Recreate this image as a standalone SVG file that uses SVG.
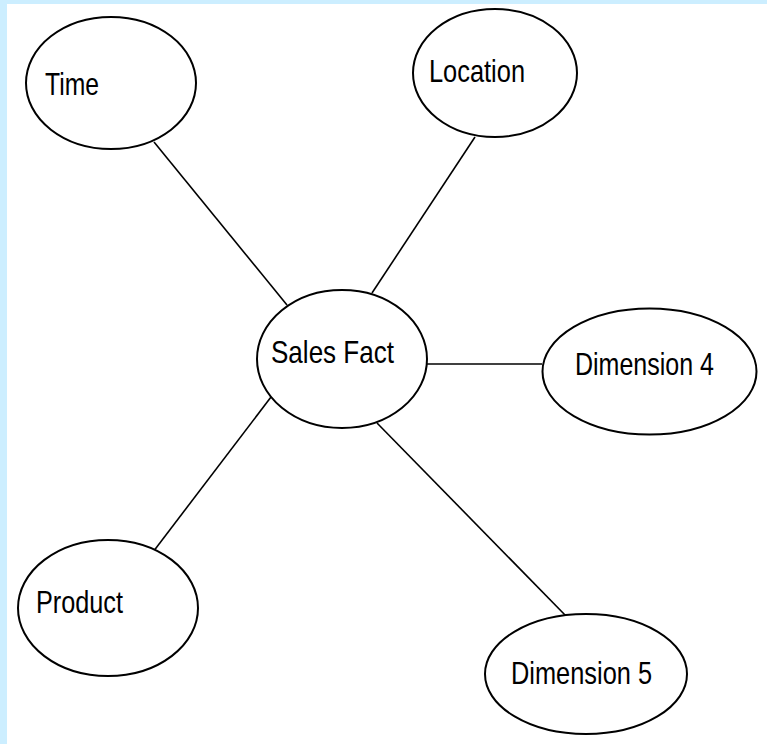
<svg xmlns="http://www.w3.org/2000/svg" width="767" height="744" viewBox="0 0 767 744">
<style>
.n ellipse{fill:#fff;stroke:#000;stroke-width:2}
.n text{font-family:"Liberation Sans",Arial,sans-serif;font-size:32px;fill:#000}
#edges line{stroke:#000;stroke-width:1.6}
</style>
<rect width="767" height="744" fill="#fff"/>
<rect x="0" y="0" width="767" height="4" fill="#cceeff"/>
<rect x="0" y="0" width="7" height="744" fill="#cceeff"/>
<g id="edges">
<line x1="154" y1="142" x2="287" y2="305"/>
<line x1="475" y1="137" x2="372" y2="293"/>
<line x1="153" y1="552" x2="271" y2="397"/>
<line x1="377" y1="423" x2="567" y2="617"/>
<line x1="427" y1="364" x2="542" y2="364"/>
</g>
<g id="time" class="n"><ellipse cx="111" cy="83" rx="85" ry="66"/><text x="45" y="95" textLength="54" lengthAdjust="spacingAndGlyphs">Time</text></g>
<g id="location" class="n"><ellipse cx="495" cy="73" rx="82" ry="64"/><text x="429" y="82" textLength="96" lengthAdjust="spacingAndGlyphs">Location</text></g>
<g id="sales" class="n"><ellipse cx="342" cy="359" rx="85" ry="69"/><text x="271" y="363" textLength="123" lengthAdjust="spacingAndGlyphs">Sales Fact</text></g>
<g id="dim4" class="n"><ellipse cx="649.5" cy="371.5" rx="107" ry="63"/><text x="575" y="375" textLength="139" lengthAdjust="spacingAndGlyphs">Dimension 4</text></g>
<g id="product" class="n"><ellipse cx="108" cy="608" rx="90" ry="68"/><text x="36" y="613" textLength="87" lengthAdjust="spacingAndGlyphs">Product</text></g>
<g id="dim5" class="n"><ellipse cx="586" cy="674" rx="101" ry="60"/><text x="511" y="684" textLength="141" lengthAdjust="spacingAndGlyphs">Dimension 5</text></g>
</svg>
